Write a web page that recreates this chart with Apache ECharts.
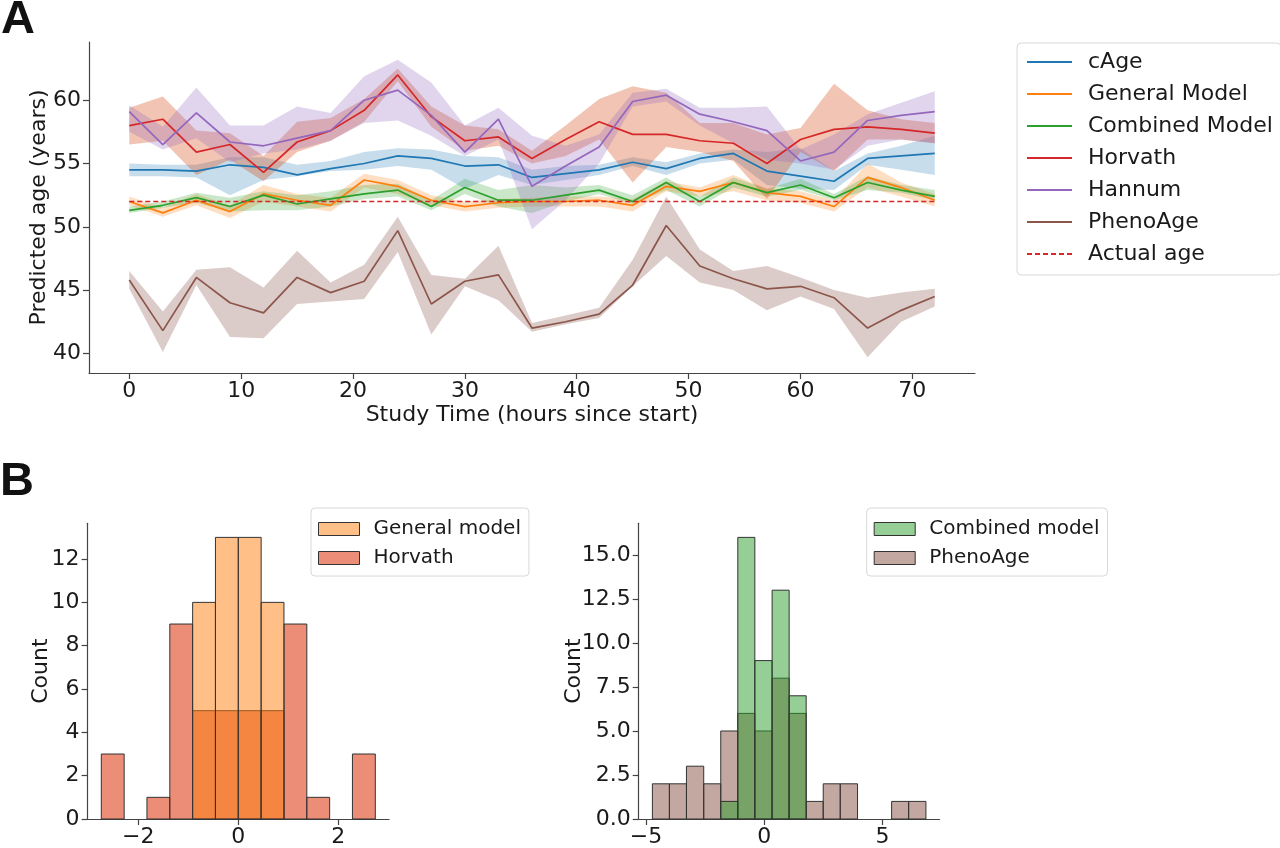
<!DOCTYPE html>
<html><head><meta charset="utf-8">
<script src="https://cdn.jsdelivr.net/npm/echarts@6/dist/echarts.min.js"></script>
<style>
html,body{margin:0;padding:0;background:#fff;}
#a{position:absolute;left:0;top:0;width:1280px;height:440px;}
#b{position:absolute;left:0;top:440px;width:1280px;height:408px;}
</style>
</head><body>
<div id="a"></div><div id="b"></div>
<script>
// ---------- Panel A data ----------
const hours = [0,3,6,9,12,15,18,21,24,27,30,33,36,39,42,45,48,51,54,57,60,63,66,69,72];
const actualAge = 52;
const cAge      = [54.5,54.5,54.4,54.9,54.7,54.1,54.6,55.0,55.6,55.4,54.8,54.9,53.9,54.2,54.5,55.1,54.6,55.4,55.8,54.4,54.0,53.6,55.4,55.6,55.8];
const cAgeLo    = [54.0,54.0,53.9,52.5,53.7,54.0,54.4,54.5,54.8,54.5,53.0,54.1,53.3,53.7,54.1,54.8,54.1,55.0,55.3,53.3,53.0,52.9,54.9,54.5,54.1];
const cAgeHi    = [55.0,54.9,54.9,55.5,55.5,54.9,55.2,55.9,56.2,56.1,55.6,55.5,54.5,54.8,54.9,55.5,55.1,55.8,56.1,55.9,56.2,54.4,55.8,56.4,57.2];
const general   = [52.0,51.1,52.1,51.2,52.6,52.1,51.7,53.7,53.2,52.1,51.6,51.9,52.0,52.0,52.1,51.7,53.2,52.8,53.5,52.7,52.4,51.6,53.9,53.1,52.1];
const generalLo = [51.7,50.8,51.7,50.7,52.0,51.6,51.2,53.1,52.6,51.7,51.2,51.5,51.6,51.6,51.6,51.2,52.8,52.4,52.8,52.1,51.9,51.2,53.1,52.4,51.6];
const generalHi = [52.4,51.5,52.6,51.7,53.3,52.6,52.3,54.2,53.7,52.5,52.0,52.2,52.3,52.4,52.4,52.2,53.6,53.1,54.1,53.0,52.8,52.1,55.0,53.5,52.6];
const combined   = [51.3,51.7,52.3,51.6,52.5,51.8,52.2,52.6,52.9,51.6,53.1,52.1,52.1,52.5,52.9,52.0,53.5,52.0,53.5,52.7,53.3,52.3,53.5,52.9,52.4];
const combinedLo = [51.1,51.5,51.9,51.2,51.3,51.3,51.6,52.2,52.4,51.3,52.6,51.6,51.1,52.0,52.6,51.8,52.9,51.6,53.1,52.4,52.9,52.1,52.9,52.7,52.1];
const combinedHi = [51.6,52.0,52.7,52.3,52.8,52.5,52.8,53.3,53.4,52.1,53.8,52.9,53.3,53.1,53.3,52.5,53.9,52.4,53.9,53.0,53.8,52.6,54.0,53.3,52.9];
const horvath   = [58.0,58.5,55.9,56.5,54.3,56.7,57.6,59.2,62.0,58.7,56.8,57.1,55.4,56.9,58.3,57.3,57.3,56.8,56.6,55.0,56.9,57.7,57.9,57.7,57.4];
const horvathLo = [56.5,56.8,54.1,55.3,53.6,55.9,56.8,58.3,61.5,57.9,56.0,56.4,55.0,55.6,56.9,53.5,56.3,55.9,55.2,52.2,55.9,54.4,56.9,56.9,56.6];
const horvathHi = [59.4,60.3,57.6,57.4,55.6,58.3,58.6,60.1,62.5,59.5,58.0,57.7,56.0,58.0,60.1,61.1,60.6,58.2,58.2,57.3,57.8,61.3,59.2,58.5,58.2];
const hannum    = [59.1,56.5,59.0,56.7,56.4,57.0,57.6,60.0,60.8,58.8,55.9,58.5,53.2,54.8,56.3,59.9,60.4,58.9,58.3,57.6,55.2,55.9,58.4,58.8,59.1];
const hannumLo  = [57.5,56.1,57.0,55.1,55.8,56.1,56.8,58.2,58.4,57.2,55.6,56.9,49.8,52.1,55.0,59.5,59.9,58.0,56.6,55.3,55.0,54.5,56.4,56.9,56.6];
const hannumHi  = [59.6,57.9,61.0,58.0,58.0,59.5,59.0,61.9,63.2,61.4,58.0,59.4,57.2,56.4,57.3,60.6,60.9,59.4,59.4,59.5,56.1,57.3,58.9,59.8,60.7];
const pheno     = [45.8,41.8,46.0,44.0,43.2,46.0,44.8,45.7,49.7,43.9,45.7,46.2,42.0,42.5,43.1,45.4,50.1,46.9,45.9,45.1,45.3,44.4,42.0,43.4,44.5];
const phenoLo   = [45.1,40.1,45.4,41.3,41.2,43.9,44.1,44.3,48.0,41.5,45.3,44.2,41.7,42.3,42.8,45.3,47.7,45.6,45.0,43.4,44.5,43.5,39.7,42.5,43.7];
const phenoHi   = [46.5,43.3,46.6,46.8,45.2,48.1,45.6,47.0,50.8,46.2,45.9,48.5,42.4,43.0,43.6,47.4,52.4,48.2,46.5,46.9,46.0,45.0,44.4,44.8,45.1];
const xTicksA = [0,10,20,30,40,50,60,70];
const yTicksA = [40,45,50,55,60];

// ---------- Panel B data ----------
const edgesLeft  = [-2.74,-2.283,-1.827,-1.37,-0.913,-0.457,0,0.457,0.913,1.37,1.827,2.283,2.74];
const countsGeneral = [0,0,0,0,10,13,13,10,0,0,0,0];
const countsHorvath = [3,0,1,9,5,5,5,5,9,1,0,3];
const edgesRight = [-4.73,-4.01,-3.29,-2.56,-1.84,-1.12,-0.40,0.33,1.05,1.77,2.49,3.21,3.94,4.66,5.38,6.10,6.83];
const countsCombined = [0,0,0,0,1,16,9,13,7,0,0,0,0,0,0,0];
const countsPheno    = [2,2,3,2,5,6,5,8,6,1,2,2,0,0,1,1];
const xTicksBL = [-2,0,2];
const yTicksBL = [0,2,4,6,8,10,12];
const xTicksBR = [-5,0,5];
const yTicksBR = [0,2.5,5,7.5,10,12.5,15];

const FONT = 'DejaVu Sans';
const AX = '#444';
const TXT = '#1a1a1a';
const FS = 22;
const minus = v => String(v).replace('-', '\u2212');

function axisCommon(ticks, fmt, margin) {
  return {
    axisLine: {show: true, onZero: false, lineStyle: {color: AX, width: 1.2}},
    axisTick: {show: true, customValues: ticks, length: 6, lineStyle: {color: AX, width: 1.2}},
    axisLabel: {customValues: ticks, formatter: fmt || (v => minus(v)), fontSize: FS, color: TXT, fontFamily: FONT, margin: margin},
    splitLine: {show: false}
  };
}

// ---------- Chart A ----------
function band(name, lo, hi, fill) {
  return {
    type: 'custom', name: name + ' band', silent: true, z: 1,
    data: [[hours[0], lo[0]]],
    renderItem: function (params, api) {
      const pts = [];
      for (let i = 0; i < hours.length; i++) pts.push(api.coord([hours[i], hi[i]]));
      for (let i = hours.length - 1; i >= 0; i--) pts.push(api.coord([hours[i], lo[i]]));
      return {type: 'polygon', shape: {points: pts}, style: {fill: fill}};
    }
  };
}
function line(name, vals, color, dashed) {
  return {
    type: 'line', name: name, symbol: 'none', showSymbol: false, z: dashed ? 4 : 3,
    data: hours.map((t, i) => [t, vals[i]]),
    lineStyle: {color: color, width: 1.7, type: dashed ? [5, 3] : 'solid'},
    itemStyle: {color: color}
  };
}

const chartA = echarts.init(document.getElementById('a'), null, {renderer: 'canvas'});
chartA.setOption({
  animation: false,
  backgroundColor: '#fff',
  textStyle: {fontFamily: FONT},
  graphic: [{type: 'text', left: 1, top: -3, style: {text: 'A', font: 'bold 47px "Liberation Sans"', fill: '#111'}}],
  grid: {left: 89, right: 305, top: 42, bottom: 67},
  xAxis: Object.assign({
    type: 'value', min: -3.6, max: 75.6,
    name: 'Study Time (hours since start)', nameLocation: 'middle', nameGap: 31, nameMoveOverlap: false,
    nameTextStyle: {fontSize: FS, color: TXT, fontFamily: FONT}
  }, axisCommon(xTicksA, null, 7)),
  yAxis: Object.assign({
    type: 'value', min: 38.45, max: 64.6,
    name: 'Predicted age (years)', nameLocation: 'middle', nameGap: 39, nameMoveOverlap: false,
    nameTextStyle: {fontSize: FS, color: TXT, fontFamily: FONT}
  }, axisCommon(yTicksA, null, 8)),
  legend: {
    orient: 'vertical', left: 1017, top: 43,
    padding: [8, 8, 10, 9],
    backgroundColor: '#fff', borderColor: '#d8d8d8', borderWidth: 1, borderRadius: 4,
    itemWidth: 45, itemHeight: 14, itemGap: 10,
    itemStyle: {opacity: 0, borderWidth: 0},
    textStyle: {fontSize: FS, color: TXT, fontFamily: FONT, lineHeight: 22, padding: [0, 0, 0, 11]},
    data: ['cAge', 'General Model', 'Combined Model', 'Horvath', 'Hannum', 'PhenoAge', 'Actual age']
  },
  series: [
    band('cAge', cAgeLo, cAgeHi, 'rgba(31,119,180,0.25)'),
    band('General Model', generalLo, generalHi, 'rgba(255,127,14,0.25)'),
    band('Combined Model', combinedLo, combinedHi, 'rgba(44,160,44,0.25)'),
    band('Horvath', horvathLo, horvathHi, 'rgba(215,75,25,0.33)'),
    band('Hannum', hannumLo, hannumHi, 'rgba(148,103,189,0.28)'),
    band('PhenoAge', phenoLo, phenoHi, 'rgba(140,86,75,0.3)'),
    line('cAge', cAge, '#1f77b4'),
    line('General Model', general, '#ff7f0e'),
    line('Combined Model', combined, '#2ca02c'),
    line('Horvath', horvath, '#d62728'),
    line('Hannum', hannum, '#9467bd'),
    line('PhenoAge', pheno, '#8c564b'),
    line('Actual age', hours.map(() => actualAge), '#d62728', true)
  ]
});

// ---------- Chart B ----------
function hist(name, edges, counts, fill, idx) {
  const data = [];
  counts.forEach((c, i) => { if (c > 0) data.push([edges[i], edges[i + 1], c]); });
  return {
    type: 'custom', name: name, xAxisIndex: idx, yAxisIndex: idx,
    data: data, encode: {x: [0, 1], y: 2},
    itemStyle: {color: fill, borderColor: '#333', borderWidth: 1},
    renderItem: function (params, api) {
      const p0 = api.coord([api.value(0), api.value(2)]);
      const p1 = api.coord([api.value(1), 0]);
      return {type: 'rect', shape: {x: p0[0], y: p0[1], width: p1[0] - p0[0], height: p1[1] - p0[1]},
              style: {fill: fill, stroke: '#333', lineWidth: 1}};
    }
  };
}
const legendB = (left, names) => ({
  orient: 'vertical', left: left, top: 68,
  padding: [11, 8, 8, 7],
  backgroundColor: '#fff', borderColor: '#d8d8d8', borderWidth: 1, borderRadius: 4,
  itemWidth: 41, itemHeight: 13, itemGap: 9, icon: 'rect',
  itemStyle: {borderColor: '#333', borderWidth: 1},
  textStyle: {fontSize: 20, color: TXT, fontFamily: FONT, lineHeight: 20, padding: [0, 0, 0, 9]},
  data: names
});

const chartB = echarts.init(document.getElementById('b'), null, {renderer: 'canvas'});
chartB.setOption({
  animation: false,
  backgroundColor: '#fff',
  textStyle: {fontFamily: FONT},
  graphic: [{type: 'text', left: 0, top: 19, style: {text: 'B', font: 'bold 47px "Liberation Sans"', fill: '#111'}}],
  grid: [
    {left: 87.6, top: 83.3, width: 301.4, height: 298.4},
    {left: 638.7, top: 83.3, width: 300.9, height: 298.4}
  ],
  xAxis: [
    Object.assign({type: 'value', gridIndex: 0, min: -3.014, max: 3.014}, axisCommon(xTicksBL, null, 7)),
    Object.assign({type: 'value', gridIndex: 1, min: -5.308, max: 7.408}, axisCommon(xTicksBR, null, 7))
  ],
  yAxis: [
    Object.assign({type: 'value', gridIndex: 0, min: 0, max: 13.65, name: 'Count', nameLocation: 'middle', nameGap: 35, nameMoveOverlap: false,
      nameTextStyle: {fontSize: FS, color: TXT, fontFamily: FONT}}, axisCommon(yTicksBL, null, 8)),
    Object.assign({type: 'value', gridIndex: 1, min: 0, max: 16.8, name: 'Count', nameLocation: 'middle', nameGap: 53, nameMoveOverlap: false,
      nameTextStyle: {fontSize: FS, color: TXT, fontFamily: FONT}}, axisCommon(yTicksBR, v => Number(v).toFixed(1), 8))
  ],
  legend: [
    legendB(311, ['General model', 'Horvath']),
    legendB(866.7, ['Combined model', 'PhenoAge'])
  ],
  series: [
    hist('Horvath', edgesLeft, countsHorvath, 'rgba(220,55,15,0.57)', 0),
    hist('General model', edgesLeft, countsGeneral, 'rgba(255,127,14,0.5)', 0),
    hist('PhenoAge', edgesRight, countsPheno, 'rgba(140,86,75,0.52)', 1),
    hist('Combined model', edgesRight, countsCombined, 'rgba(44,160,44,0.5)', 1)
  ]
});
</script>
</body></html>
